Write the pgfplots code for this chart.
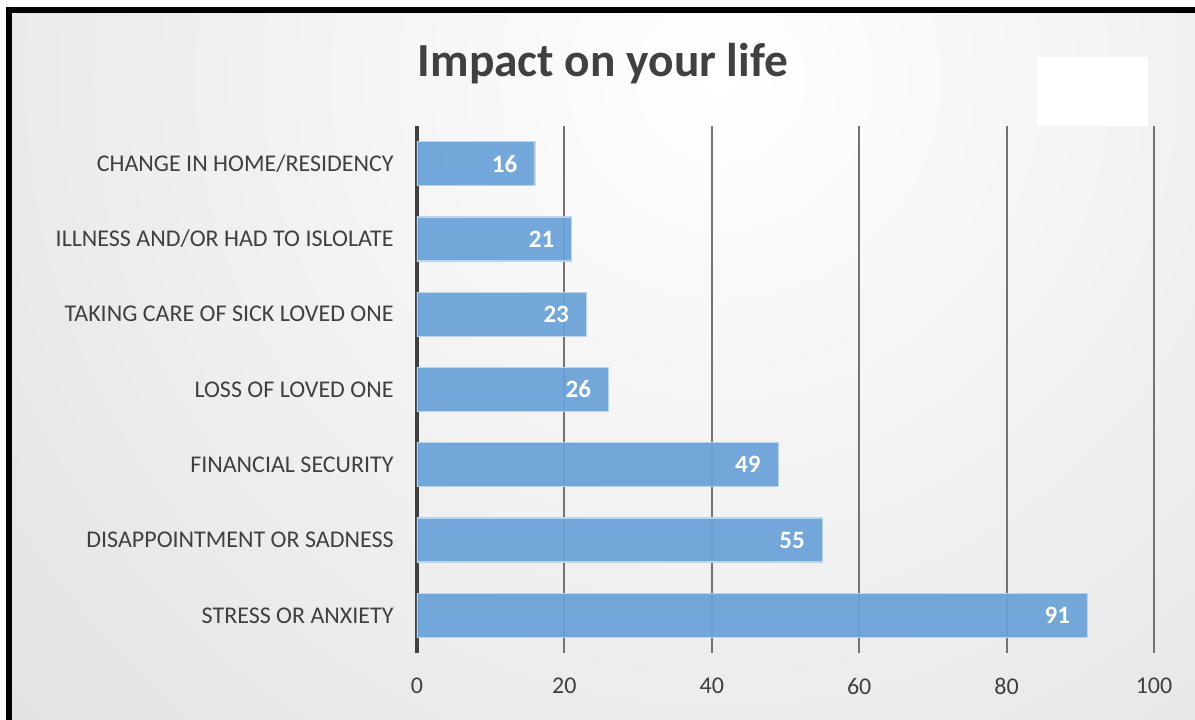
\documentclass[border=0pt]{standalone}
\usepackage{pgfplots}
\pgfplotsset{compat=1.18}
\usepackage{fontspec}
\setmainfont{Carlito}
\definecolor{barblue}{RGB}{106,162,216}
\definecolor{baredge}{RGB}{185,212,238}
\definecolor{txt}{RGB}{64,64,64}
\definecolor{bgout}{RGB}{196,196,196}
\begin{document}
\begin{tikzpicture}
\useasboundingbox (0,0) rectangle (597.5pt,359.5pt);
\fill[white] (0,0) rectangle (597.5pt,359.5pt);
\begin{scope}
\clip (3pt,0pt) rectangle (597.5pt,355.5pt);
\shade[inner color=white, outer color=bgout] (-640pt,-680pt) rectangle (1360pt,1320pt);
\end{scope}
\draw[line width=3pt, black] (4.5pt,-5pt) -- (4.5pt,354.25pt) -- (605pt,354.25pt);
\fill[white] (518.5pt,296.5pt) rectangle (574pt,331pt);
\node[font=\bfseries\fontsize{23.7}{26}\selectfont, text=txt] at (301.5pt,327.5pt) {Impact on your life};
\begin{axis}[
  at={(208.5pt,33pt)}, anchor=south west,
  scale only axis, width=368.5pt, height=263.5pt,
  xbar, bar width=0.584,
  xmin=0, xmax=100, ymin=-0.5, ymax=6.5,
  xtick={0,20,...,100}, ytick={0,...,6},
  yticklabels={STRESS OR ANXIETY, DISAPPOINTMENT OR SADNESS, FINANCIAL SECURITY, LOSS OF LOVED ONE, TAKING CARE OF SICK LOVED ONE, ILLNESS AND/OR HAD TO ISLOLATE, CHANGE IN HOME/RESIDENCY},
  axis line style={draw=none},
  major tick length=0pt,
  xmajorgrids, grid style={black!55, line width=0.9pt},
  extra x ticks={0}, extra x tick labels={},
  extra x tick style={grid style={txt, line width=2.2pt}},
  /pgf/number format/assume math mode=true,
  xticklabel style={font=\fontsize{12}{12}\selectfont, text=txt, anchor=center, yshift=-16.5pt},
  yticklabel style={font=\fontsize{12}{12}\selectfont, text=txt, anchor=east, inner sep=0pt, xshift=-11.5pt},
  nodes near coords,
  every node near coord/.append style={anchor=east, inner sep=0pt, xshift=-8.5pt, font=\bfseries\fontsize{12.5}{12.5}\selectfont, text=white, text opacity=1},
]
\addplot[fill=barblue, fill opacity=0.93, draw=baredge, line width=0.6pt] coordinates {
(91,0) (55,1) (49,2) (26,3) (23,4) (21,5) (16,6)
};
\end{axis}
\end{tikzpicture}
\end{document}
